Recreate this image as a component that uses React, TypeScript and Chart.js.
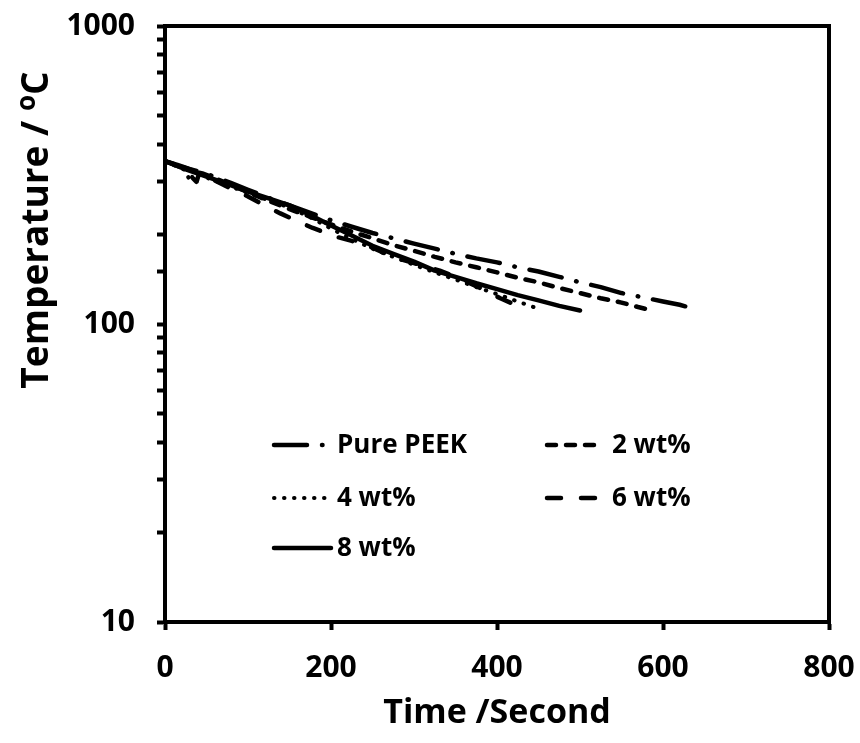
import React, { useEffect, useRef } from 'react';
import { Chart, registerables } from 'chart.js';

Chart.register(...registerables);

const seriesNames = ['Pure PEEK', '2 wt%', '4 wt%', '6 wt%', '8 wt%'];

const peekTime = [0, 15, 30, 45, 60, 80, 100, 125, 150, 175, 200, 225, 250, 275, 300, 325, 350, 375, 400, 425, 450, 475, 500, 525, 550, 575, 600, 620, 635];
const peekTemp = [352, 342, 331, 322, 312, 297, 282, 265, 250, 236, 223, 212, 202, 194, 186, 179, 172, 166, 161, 155, 150, 144, 138, 133, 127, 123, 119, 116, 113];

const wt2Time = [0, 15, 30, 45, 60, 80, 100, 125, 150, 175, 200, 225, 250, 275, 300, 325, 350, 375, 400, 425, 450, 475, 500, 525, 550, 570, 587];
const wt2Temp = [352, 341, 330, 320, 309, 292, 277, 259, 243, 229, 216, 204, 194, 184, 176, 168, 161, 155, 149, 143, 138, 132, 127, 122, 118, 114, 111];

const wt4Time = [0, 25, 30, 35, 50, 75, 100, 125, 150, 175, 200, 225, 250, 275, 300, 325, 350, 375, 400, 425, 448];
const wt4Temp = [352, 328, 300, 322, 310, 292, 275, 260, 246, 228, 209, 193, 179, 168, 158, 149, 141, 133, 126, 119, 113];

const wt6Time = [0, 20, 38, 42, 60, 80, 100, 120, 139, 160, 178, 207, 225, 243, 260, 275, 300, 331, 350, 375, 404, 422];
const wt6Temp = [352, 335, 300, 326, 303, 284, 268, 250, 235, 221, 210, 196, 190, 184, 175, 168, 160, 151, 144, 134, 122, 116];

const wt8Time = [0, 25, 50, 75, 100, 125, 150, 175, 200, 225, 250, 275, 300, 325, 350, 375, 400, 425, 450, 475, 500];
const wt8Temp = [352, 330, 312, 295, 278, 264, 250, 232, 214, 198, 183, 172, 162, 151, 144, 137, 131, 125, 120, 115, 111];

const xTickValues = [0, 200, 400, 600, 800];
const yTickValues = [10, 100, 1000];

const FONT = "'Open Sans', 'DejaVu Sans', sans-serif";

const toPoints = (t: number[], v: number[]) => t.map((x, i) => ({ x, y: v[i] }));

const styles = [
  { dash: [33, 15, 0.5, 15], width: 4.5, len: 48.5 },
  { dash: [9, 10], width: 4.5, len: 47 },
  { dash: [0.5, 9.5], width: 4, len: 50.5 },
  { dash: [14, 20], width: 4.5, len: 48 },
  { dash: [], width: 4.5, len: 57 },
];

const legendCells = [
  { col: 0, row: 0 },
  { col: 1, row: 0 },
  { col: 0, row: 1 },
  { col: 1, row: 1 },
  { col: 0, row: 2 },
];
const legendColX = [109, 382];
const legendTextX = [172, 447];
const legendRowY = [419, 472, 522];

const zeroPad = (s: any) => {
  s.paddingTop = 0;
  s.paddingBottom = 0;
  s.paddingLeft = 0;
  s.paddingRight = 0;
};

const overlayPlugin = {
  id: 'overlay',
  afterDraw(chart: any) {
    const { ctx, chartArea: a } = chart;
    ctx.save();
    ctx.strokeStyle = '#000';
    ctx.lineWidth = 4;
    ctx.setLineDash([]);
    ctx.strokeRect(a.left, a.top, a.right - a.left, a.bottom - a.top);

    // legend
    ctx.font = `bold 26px ${FONT}`;
    ctx.fillStyle = '#000';
    ctx.textBaseline = 'middle';
    ctx.textAlign = 'left';
    seriesNames.forEach((name, i) => {
      const cell = legendCells[i];
      const st = styles[i];
      const x0 = a.left + legendColX[cell.col];
      const y0 = a.top + legendRowY[cell.row];
      ctx.beginPath();
      ctx.lineWidth = st.width;
      ctx.lineCap = 'round';
      ctx.setLineDash(st.dash);
      ctx.moveTo(x0, y0);
      ctx.lineTo(x0 + st.len, y0);
      ctx.stroke();
      ctx.setLineDash([]);
      ctx.fillText(name, a.left + legendTextX[cell.col], y0 + 1);
    });

    // y axis title with superscript o
    ctx.translate(35, 230);
    ctx.rotate(-Math.PI / 2);
    const main = 'Temperature / ';
    const sup = 'o';
    const unit = 'C';
    ctx.font = `bold 37px ${FONT}`;
    const wMain = ctx.measureText(main).width;
    const wUnit = ctx.measureText(unit).width;
    ctx.font = `bold 26px ${FONT}`;
    const wSup = ctx.measureText(sup).width;
    const total = wMain + wSup + wUnit;
    let x = -total / 2;
    ctx.textBaseline = 'alphabetic';
    ctx.font = `bold 37px ${FONT}`;
    ctx.fillText(main, x, 13);
    x += wMain;
    ctx.font = `bold 26px ${FONT}`;
    ctx.fillText(sup, x, 0);
    x += wSup;
    ctx.font = `bold 37px ${FONT}`;
    ctx.fillText(unit, x, 13);
    ctx.restore();
  },
};

export default function App() {
  const ref = useRef<HTMLCanvasElement | null>(null);

  useEffect(() => {
    if (!ref.current) return;
    const seriesData = [
      toPoints(peekTime, peekTemp),
      toPoints(wt2Time, wt2Temp),
      toPoints(wt4Time, wt4Temp),
      toPoints(wt6Time, wt6Temp),
      toPoints(wt8Time, wt8Temp),
    ];
    const chart = new Chart(ref.current, {
      type: 'line',
      data: {
        datasets: seriesNames.map((name, i) => ({
          label: name,
          data: seriesData[i],
          borderColor: '#000',
          backgroundColor: '#000',
          borderWidth: styles[i].width,
          borderDash: styles[i].dash,
          borderCapStyle: 'round' as const,
          borderJoinStyle: 'round' as const,
          pointRadius: 0,
          tension: 0,
          fill: false,
        })),
      },
      options: {
        animation: false,
        responsive: true,
        maintainAspectRatio: false,
        parsing: false,
        layout: { padding: { top: 26, right: 31, left: 0, bottom: 0 } },
        plugins: {
          legend: { display: false },
          tooltip: { enabled: false },
        },
        scales: {
          x: {
            type: 'linear',
            min: 0,
            max: 800,
            afterFit: (s: any) => { s.height = 121; zeroPad(s); },
            afterBuildTicks: (s: any) => { s.ticks = xTickValues.map((v) => ({ value: v })); },
            ticks: {
              color: '#000',
              font: { family: FONT, size: 30, weight: 'bold' },
              padding: 20,
              maxRotation: 0,
              autoSkip: false,
            },
            grid: {
              display: true,
              drawOnChartArea: false,
              drawTicks: true,
              tickLength: 8,
              tickWidth: 4,
              tickColor: '#000',
            },
            border: { display: true, color: '#000', width: 4 },
            title: {
              display: true,
              text: 'Time /Second',
              color: '#000',
              font: { family: FONT, size: 34, weight: 'bold' },
              padding: { top: 0, bottom: 9 },
            },
          },
          y: {
            type: 'logarithmic',
            min: 10,
            max: 1000,
            afterFit: (s: any) => { s.width = 165; zeroPad(s); },
            ticks: {
              color: '#000',
              font: { family: FONT, size: 30, weight: 'bold' },
              padding: 22,
              autoSkip: false,
              callback: (v: any) => (yTickValues.includes(Number(v)) ? String(v) : ''),
            },
            grid: {
              display: true,
              drawOnChartArea: false,
              drawTicks: true,
              tickLength: 8,
              tickWidth: 4,
              tickColor: '#000',
            },
            border: { display: true, color: '#000', width: 4 },
          },
        },
      },
      plugins: [overlayPlugin],
    } as any);
    return () => chart.destroy();
  }, []);

  return (
    <div style={{ position: 'fixed', left: 0, top: 0, width: 860, height: 743, background: '#fff' }}>
      <canvas ref={ref} />
    </div>
  );
}
